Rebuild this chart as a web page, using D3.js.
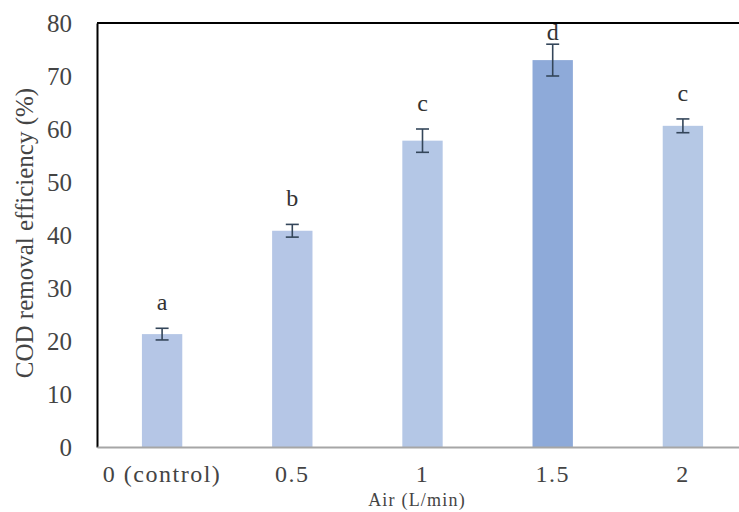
<!DOCTYPE html>
<html>
<head>
<meta charset="utf-8">
<script src="https://cdn.jsdelivr.net/npm/d3@7"></script>
<style>
    body { margin: 0; background: #fff; }
    svg { display: block; font-family: "Liberation Serif", "Times New Roman", serif; }
</style>
</head>
<body>
<div id="chart"></div>
<script>
// data
var categories = ["0 (control)", "0.5", "1", "1.5", "2"];
var removal = [21.3, 40.8, 57.8, 73.0, 60.6];
var errors = [1.1, 1.2, 2.2, 3.0, 1.3];
var letters = ["a", "b", "c", "d", "c"];
var barColors = ["#b5c6e6", "#b5c6e6", "#b4c7e6", "#8eaad9", "#b5c8e5"];
var yTicks = [0, 10, 20, 30, 40, 50, 60, 70, 80];

var width = 739, height = 512;
var plotLeft = 97, plotRight = 748, plotTop = 23, plotBottom = 447;

var svg = d3.select("#chart").append("svg")
    .attr("width", width).attr("height", height);

var fnScaleX = d3.scaleBand()
    .domain(categories)
    .range([plotLeft, plotRight])
    .paddingInner(0.69)
    .paddingOuter(0.345);

var fnScaleY = d3.scaleLinear()
    .domain([0, 80])
    .range([plotBottom, plotTop]);

// bars
svg.append("g").selectAll("rect")
    .data(categories)
    .enter().append("rect")
    .attr("x", function (d) { return fnScaleX(d); })
    .attr("y", function (d, i) { return fnScaleY(removal[i]); })
    .attr("width", fnScaleX.bandwidth())
    .attr("height", function (d, i) { return plotBottom - fnScaleY(removal[i]); })
    .attr("fill", function (d, i) { return barColors[i]; });

// error bars
var err = svg.append("g")
    .attr("stroke", "#34465a")
    .attr("stroke-width", 1.6);
categories.forEach(function (c, i) {
    var cx = fnScaleX(c) + fnScaleX.bandwidth() / 2;
    var y1 = fnScaleY(removal[i] + errors[i]);
    var y2 = fnScaleY(removal[i] - errors[i]);
    err.append("line").attr("x1", cx).attr("x2", cx).attr("y1", y1).attr("y2", y2);
    err.append("line").attr("x1", cx - 6.5).attr("x2", cx + 6.5).attr("y1", y1).attr("y2", y1);
    err.append("line").attr("x1", cx - 6.5).attr("x2", cx + 6.5).attr("y1", y2).attr("y2", y2);
});

// significance letters
svg.append("g").selectAll("text")
    .data(letters)
    .enter().append("text")
    .attr("x", function (d, i) { return fnScaleX(categories[i]) + fnScaleX.bandwidth() / 2; })
    .attr("y", function (d, i) { return Math.max(fnScaleY(removal[i] + errors[i]) - 18, plotTop + 17); })
    .attr("text-anchor", "middle")
    .attr("font-size", 24)
    .attr("fill", "#333")
    .text(function (d) { return d; });

// frame: top and left black, bottom grey
svg.append("line")
    .attr("x1", plotLeft).attr("x2", plotRight).attr("y1", plotTop).attr("y2", plotTop)
    .attr("stroke", "#000").attr("stroke-width", 2);

var axisY = d3.axisLeft(fnScaleY).tickValues(yTicks).tickSize(0).tickPadding(25);
var gy = svg.append("g")
    .attr("transform", "translate(" + plotLeft + ",0)")
    .call(axisY);
gy.select(".domain").attr("stroke", "#000").attr("stroke-width", 2);
gy.selectAll("text")
    .attr("font-family", "Liberation Serif, serif")
    .attr("font-size", 25)
    .attr("fill", "#444");

var axisX = d3.axisBottom(fnScaleX).tickSize(0).tickPadding(18);
var gx = svg.append("g")
    .attr("transform", "translate(0," + plotBottom + ")")
    .call(axisX);
gx.select(".domain").attr("stroke", "#a6a6a6").attr("stroke-width", 2);
gx.selectAll("text")
    .attr("font-family", "Liberation Serif, serif")
    .attr("font-size", 24)
    .attr("letter-spacing", 1.5)
    .attr("fill", "#444");

// axis titles
svg.append("text")
    .attr("transform", "translate(33,233) rotate(-90)")
    .attr("text-anchor", "middle")
    .attr("font-size", 25)
    .attr("fill", "#444")
    .text("COD removal efficiency (%)");

svg.append("text")
    .attr("x", 417).attr("y", 506)
    .attr("text-anchor", "middle")
    .attr("font-size", 18)
    .attr("letter-spacing", 1.2)
    .attr("fill", "#444")
    .text("Air (L/min)");
</script>
</body>
</html>
